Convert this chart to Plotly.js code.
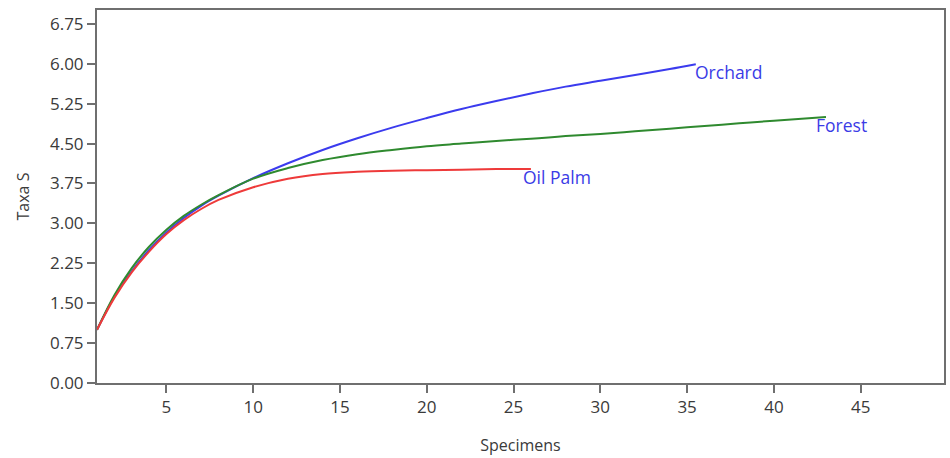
<!DOCTYPE html>
<html>
<head>
<meta charset="utf-8">
<script src="https://cdn.plot.ly/plotly-3.0.1.min.js"></script>
<style>html,body{margin:0;padding:0;background:#fff;}#chart{width:950px;height:458px;}</style>
</head>
<body>
<div id="chart"></div>
<script>
// Data
const orchardX = [1, 2, 3, 4, 5, 6, 7, 8, 10, 12, 14, 16, 18, 20, 22, 24, 26, 28, 30, 32, 34, 35.5];
const orchardY = [1.00, 1.62, 2.10, 2.50, 2.83, 3.10, 3.33, 3.52, 3.85, 4.13, 4.38, 4.60, 4.80, 4.98, 5.15, 5.30, 5.44, 5.57, 5.68, 5.79, 5.90, 5.99];

const forestX = [1, 2, 3, 4, 5, 6, 7, 8, 10, 12, 14, 16, 18, 20, 22, 24, 26, 28, 30, 32, 34, 36, 38, 40, 43];
const forestY = [1.00, 1.65, 2.16, 2.56, 2.88, 3.14, 3.35, 3.53, 3.84, 4.04, 4.19, 4.30, 4.38, 4.45, 4.50, 4.55, 4.59, 4.64, 4.68, 4.73, 4.78, 4.83, 4.88, 4.93, 5.00];

const palmX = [1, 2, 3, 4, 5, 6, 7, 8, 10, 12, 14, 16, 18, 20, 22, 24, 26];
const palmY = [1.00, 1.60, 2.08, 2.47, 2.80, 3.06, 3.27, 3.44, 3.68, 3.84, 3.93, 3.97, 3.99, 4.00, 4.01, 4.02, 4.02];

const seriesNames = ["Orchard", "Forest", "Oil Palm"];
const yTickVals = [0, 0.75, 1.5, 2.25, 3, 3.75, 4.5, 5.25, 6, 6.75];
const yTickText = ["0.00", "0.75", "1.50", "2.25", "3.00", "3.75", "4.50", "5.25", "6.00", "6.75"];
const xTickVals = [5, 10, 15, 20, 25, 30, 35, 40, 45];

const colors = ["#3b3bee", "#2f8a2f", "#ee3a3a"];
const xs = [orchardX, forestX, palmX];
const ys = [orchardY, forestY, palmY];
const labelShift = [-3, -12, -10];

const traces = xs.map((x, i) => ({
  x: x, y: ys[i], type: "scatter", mode: "lines", name: seriesNames[i],
  line: {color: colors[i], width: 2, shape: "spline", smoothing: 1},
  hoverinfo: "skip"
}));

const annotations = xs.map((x, i) => ({
  x: x[x.length - 1], y: ys[i][ys[i].length - 1], xref: "x", yref: "y",
  text: seriesNames[i], showarrow: false, xanchor: "left", yanchor: "middle",
  xshift: labelShift[i], yshift: -8,
  font: {family: "Open Sans, sans-serif", size: 17.5, color: "#3b3be6"}
}));

const axisCommon = {
  showgrid: false, zeroline: false, showline: true, mirror: true,
  linecolor: "#6f6f6f", linewidth: 2, ticks: "outside", ticklen: 8,
  tickwidth: 2, tickcolor: "#6f6f6f",
  tickfont: {family: "Open Sans, sans-serif", size: 17, color: "#3a3a3a"}
};

const layout = {
  width: 950, height: 458,
  margin: {l: 97, r: 6, t: 10, b: 75},
  paper_bgcolor: "#ffffff", plot_bgcolor: "#ffffff",
  showlegend: false,
  xaxis: Object.assign({}, axisCommon, {
    range: [1, 49.8], tickvals: xTickVals,
    title: {text: "Specimens", standoff: 22, font: {family: "Open Sans, sans-serif", size: 16, color: "#3a3a3a"}}
  }),
  yaxis: Object.assign({}, axisCommon, {
    range: [0, 7.01], tickvals: yTickVals, ticktext: yTickText,
    title: {text: "Taxa S", standoff: 16, font: {family: "Open Sans, sans-serif", size: 16, color: "#3a3a3a"}}
  }),
  annotations: annotations
};

Plotly.newPlot("chart", traces, layout, {displayModeBar: false, staticPlot: true});
</script>
</body>
</html>
